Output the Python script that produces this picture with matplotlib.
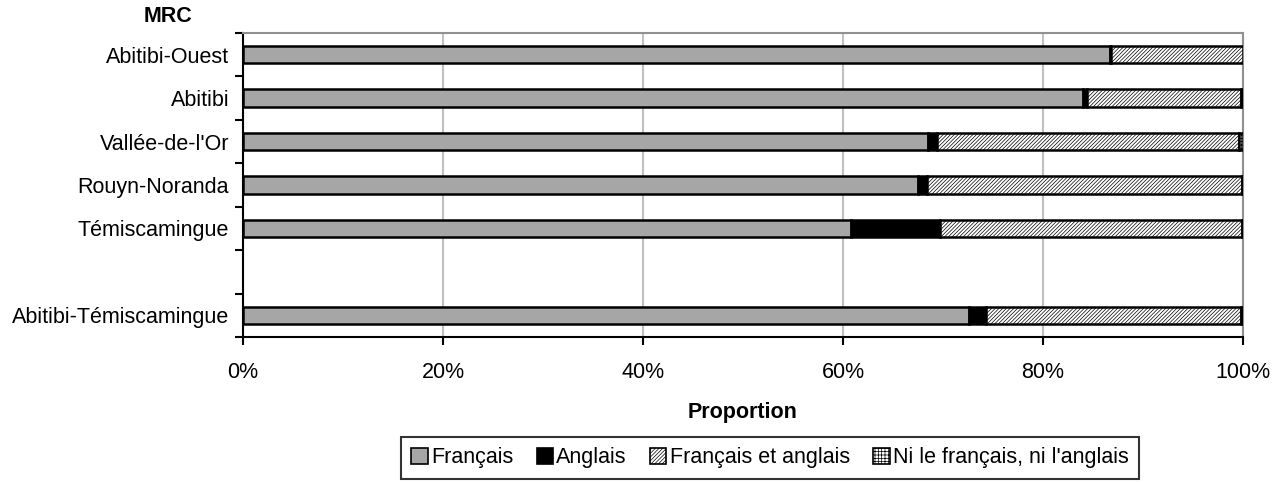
import matplotlib
matplotlib.use("Agg")
import matplotlib.pyplot as plt
from matplotlib.patches import Patch
import numpy as np

plt.rcParams['font.family'] = ['Liberation Sans', 'DejaVu Sans']
plt.rcParams['hatch.linewidth'] = 0.5

categories = ["Abitibi-Ouest", "Abitibi", "Vallée-de-l'Or", "Rouyn-Noranda",
              "Témiscamingue", "", "Abitibi-Témiscamingue"]
series_names = ["Français", "Anglais", "Français et anglais", "Ni le français, ni l'anglais"]
francais = [86.7, 84.0, 68.5, 67.5, 60.8, None, 72.6]
anglais = [0.1, 0.4, 0.9, 0.9, 8.9, None, 1.7]
fr_et_an = [13.2, 15.4, 30.2, 31.5, 30.2, None, 25.5]
ni = [0.0, 0.2, 0.4, 0.1, 0.1, None, 0.2]
xticks = [0, 20, 40, 60, 80, 100]
xticklabels = ["0%", "20%", "40%", "60%", "80%", "100%"]

styles = [
    dict(facecolor="#A6A6A6", hatch=None),
    dict(facecolor="black", hatch=None),
    dict(facecolor="white", hatch="/////////"),
    dict(facecolor="white", hatch="+++++"),
]

fig = plt.figure(figsize=(12.84, 4.82), dpi=100)
ax = fig.add_axes([243/1284, 145/482, 1000/1284, 304/482])

fs = 15.5
ypos = np.arange(len(categories))
data = [francais, anglais, fr_et_an, ni]
for i, y in enumerate(ypos):
    if francais[i] is None:
        continue
    left = 0.0
    for s, vals in enumerate(data):
        v = vals[i]
        if v and v > 0:
            ax.barh(y, v, left=left, height=0.40, color=styles[s]["facecolor"],
                    hatch=styles[s]["hatch"], edgecolor="black", linewidth=1.8, zorder=3)
        left += v

ax.set_xlim(0, 100)
ax.set_ylim(len(categories) - 0.5, -0.5)
ax.set_xticks(xticks)
ax.set_xticklabels(xticklabels, fontsize=fs)
ax.set_yticks(ypos)
ax.set_yticklabels(categories, fontsize=fs)
ax.tick_params(axis='y', length=0, pad=10)
ax.set_yticks(np.arange(-0.5, len(categories), 1.0), minor=True)
ax.tick_params(axis='y', which='minor', length=6, width=1.5, direction='out')
ax.tick_params(axis='x', length=6, width=1.5, direction='out', pad=12)

ax.grid(axis='x', color="#C0C0C0", linewidth=1.5, zorder=0)
for sp in ['left', 'bottom']:
    ax.spines[sp].set_linewidth(1.5)
    ax.spines[sp].set_color('black')
for sp in ['top', 'right']:
    ax.spines[sp].set_linewidth(1.5)
    ax.spines[sp].set_color('#909090')

ax.set_xlabel("Proportion", fontsize=fs, fontweight='bold', labelpad=14)
fig.text(168/1284, 1 - 17/482, "MRC", fontsize=fs, fontweight='bold', ha='center', va='center')

handles = [Patch(facecolor=styles[s]["facecolor"], hatch=styles[s]["hatch"],
                 edgecolor="black", linewidth=1.2, label=series_names[s]) for s in range(4)]
leg = fig.legend(handles=handles, loc='center', bbox_to_anchor=(770/1284, 1 - 458/482),
                 ncol=4, fontsize=fs, frameon=True, fancybox=False, edgecolor='black',
                 handlelength=0.75, handleheight=0.75, handletextpad=0.15, columnspacing=1.1,
                 borderpad=0.5)
leg.get_frame().set_linewidth(1.5)

fig.savefig("out.png", dpi=100)
